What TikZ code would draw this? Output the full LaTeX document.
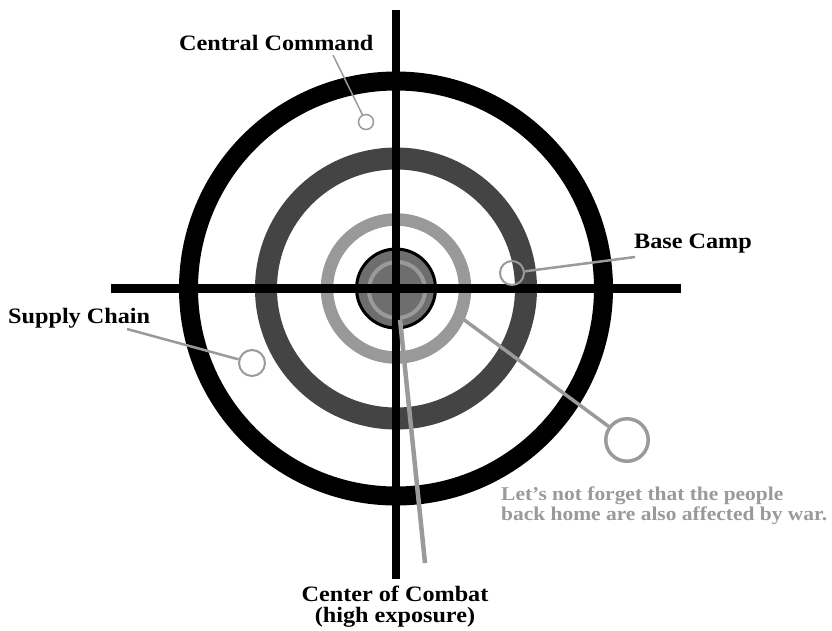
\documentclass[tikz,border=0pt]{standalone}
\usepackage{fontspec}
\setmainfont{Liberation Serif}[FakeStretch=1.1]
\usepackage{xcolor}
\usepackage{tikz}
\usetikzlibrary{positioning, calc}
\definecolor{ringdark}{HTML}{444444}
\definecolor{ringlight}{HTML}{999999}
\definecolor{coregray}{HTML}{6E6E6E}
\definecolor{leadgray}{HTML}{9A9A9A}
\tikzset{
  crosshair/.style={line width=8.5pt, black},
  leader/.style={draw=leadgray, line width=2.5pt},
  marker/.style={circle, draw=leadgray, line width=2pt, inner sep=0pt},
  tag/.style={font=\fontsize{22}{19}\selectfont\bfseries, inner sep=0pt},
  note/.style={font=\fontsize{19.5}{20}\selectfont\bfseries, text=leadgray, inner sep=0pt, anchor=base west},
}
\begin{document}
\begin{tikzpicture}[x=1pt, y=-1pt]
  \useasboundingbox[fill=white] (0,0) rectangle (832,630);
  \coordinate (ctr) at (396,288.5);
  \foreach \r/\w/\c in {207.5/19/black, 130/22/ringdark, 69/12.5/ringlight} {
    \draw[line width=\w pt, \c] (ctr) circle[radius=\r pt];
  }
  \draw[fill=coregray, draw=black, line width=3pt] (ctr) circle[radius=39.5pt];
  \node[marker, line width=4pt, minimum size=56pt] (core-ring) at (397,290) {};
  \coordinate (vtop) at (396,10);
  \coordinate (vbot) at (396,579);
  \coordinate (hleft) at (111,288.5);
  \coordinate (hright) at (681,288.5);
  \draw[crosshair] (vtop) -- (vbot);
  \draw[crosshair] (hleft) -- (hright);
  \node[marker, line width=1.5pt, minimum size=15pt] (cc-dot) at (366,122) {};
  \node[marker, minimum size=24pt] (bc-dot) at (512,273) {};
  \node[marker, minimum size=26pt] (sc-dot) at (252,363) {};
  \node[marker, line width=3.5pt, minimum size=42.5pt] (home-dot) at (627,440) {};
  \coordinate (cc-end) at (333,55);
  \coordinate (bc-end) at (635,257);
  \coordinate (sc-end) at (127,329);
  \coordinate (home-end) at (463,319);
  \coordinate (combat-end) at (425,563);
  \draw[leader, line width=1.5pt] (cc-end) -- (cc-dot);
  \draw[leader] (bc-end) -- (bc-dot);
  \draw[leader] (sc-end) -- (sc-dot);
  \draw[leader, line width=3.5pt] (home-end) -- (home-dot);
  \draw[leader, line width=4.5pt] (core-ring) -- (combat-end);
  \node[tag, anchor=base west] (cc-label) at (179,50) {Central Command};
  \node[tag, anchor=base west] (bc-label) at (634,248) {Base Camp};
  \node[tag, anchor=base west] (sc-label) at (8,323) {Supply Chain};
  \node[tag, anchor=base] (combat-label) at (395,601) {Center of Combat};
  \node[tag, anchor=base] (combat-sub) at (395,622) {(high exposure)};
  \node[note] (home-line1) at (501,500) {Let’s not forget that the people};
  \node[note] (home-line2) at (501,520) {back home are also affected by war.};
\end{tikzpicture}
\end{document}
